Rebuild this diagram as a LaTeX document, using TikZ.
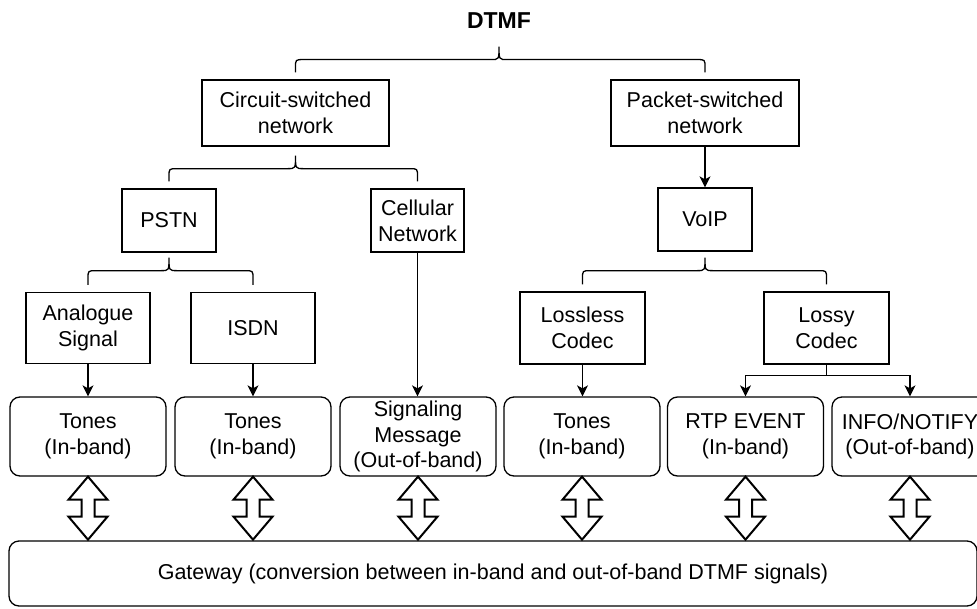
\documentclass[tikz,border=0pt]{standalone}
\usepackage{fontspec}
\setmainfont{Liberation Sans}
\usetikzlibrary{arrows.meta,calc}
\tikzset{
  base/.style={font=\fontsize{21.5}{25.8}\selectfont, align=center, inner sep=0pt, line width=1.3pt},
  sq/.style={base, draw, rectangle},
  rd/.style={base, draw, rounded corners=10pt, minimum width=156pt, minimum height=79pt},
  link/.style={line width=1.3pt},
  arr/.style={link, -{Stealth[length=11pt,width=11pt,inset=3pt]}},
  dbl/.style={line width=2pt, fill=white, line join=miter}
}
\newcommand\mybrace[3]{%
  \draw[link] let \p1=(#1), \p2=(#2.north), \p3=(#3.north) in
  (\x2,\y2+7pt) -- (\x2,\y1-21pt) .. controls (\x2,\y1-13pt) .. (\x2+8pt,\y1-13pt)
  -- (\x1-8pt,\y1-13pt) .. controls (\x1,\y1-13pt) .. (\x1,\y1)
  .. controls (\x1,\y1-13pt) .. (\x1+8pt,\y1-13pt)
  -- (\x3-8pt,\y1-13pt) .. controls (\x3,\y1-13pt) .. (\x3,\y1-21pt) -- (\x3,\y3+7pt);}
\newcommand\dblarr[1]{%
  \draw[dbl] (#1.south) -- ++(-19.5,23) -- ++(13,0) -- ++(0,17) -- ++(-13,0) -- ++(19.5,23)
  -- ++(19.5,-23) -- ++(-13,0) -- ++(0,-17) -- ++(13,0) -- cycle;}
\begin{document}
\begin{tikzpicture}[x=1pt,y=-1pt]
\useasboundingbox (0,0) rectangle (977,608);
\fill[white] (0,0) rectangle (977,608);

\node[base, font=\fontsize{23}{27}\selectfont\bfseries] (dtmf) at (499,21) {DTMF};

\node[sq, minimum width=187pt, minimum height=66pt] (circ) at (295.5,113) {Circuit-switched\\network};
\node[sq, minimum width=188pt, minimum height=66pt] (pkt) at (705,113) {Packet-switched\\network};

\node[sq, minimum width=94pt, minimum height=63pt] (pstn) at (169,220.5) {PSTN};
\node[sq, minimum width=93pt, minimum height=63pt] (cell) at (417.5,220.5) {Cellular\\Network};
\node[sq, minimum width=94pt, minimum height=63pt] (voip) at (705,219.5) {VoIP};

\node[sq, minimum width=124pt, minimum height=71pt] (ana) at (88,328) {Analogue\\Signal};
\node[sq, minimum width=124pt, minimum height=71pt] (isdn) at (253,328) {ISDN};
\node[sq, minimum width=125pt, minimum height=72pt] (lossless) at (582.5,328) {Lossless\\Codec};
\node[sq, minimum width=125pt, minimum height=72pt] (lossy) at (826.5,328) {Lossy\\Codec};

\node[rd] (t1) at (88,436.5) {Tones\\(In-band)};
\node[rd] (t2) at (253,436.5) {Tones\\(In-band)};
\node[rd] (t3) at (418,436.5) {Signaling\\Message\\(Out-of-band)};
\node[rd] (t4) at (582,436.5) {Tones\\(In-band)};
\node[rd] (t5) at (745.5,436.5) {RTP EVENT\\(In-band)};
\node[rd] (t6) at (910,436.5) {INFO/NOTIFY\\(Out-of-band)};

\node[base, draw, rounded corners=10pt, minimum width=968pt, minimum height=65pt] (gate) at (493,573.5)
  {Gateway (conversion between in-band and out-of-band DTMF signals)};

% braces
\mybrace{$(dtmf.south)+(0,17)$}{circ}{pkt}
\mybrace{$(circ.south)+(0,9)$}{pstn}{cell}
\mybrace{$(pstn.south)+(0,5)$}{ana}{isdn}
\mybrace{$(voip.south)+(0,6)$}{lossless}{lossy}

% arrows
\draw[arr] (pkt.south) -- (pkt.south |- voip.north);
\draw[arr] (ana.south) -- (ana.south |- t1.north);
\draw[arr] (isdn.south) -- (isdn.south |- t2.north);
\draw[arr] (cell.south) -- (cell.south |- t3.north);
\draw[arr] (lossless.south) -- (lossless.south |- t4.north);
\draw[link] (lossy.south) -- ++(0,11) coordinate (lj);
\draw[arr] (lj) -| (t5.north);
\draw[arr] (lj) -| (t6.north);

% double arrows
\dblarr{t1}
\dblarr{t2}
\dblarr{t3}
\dblarr{t4}
\dblarr{t5}
\dblarr{t6}
\end{tikzpicture}
\end{document}
